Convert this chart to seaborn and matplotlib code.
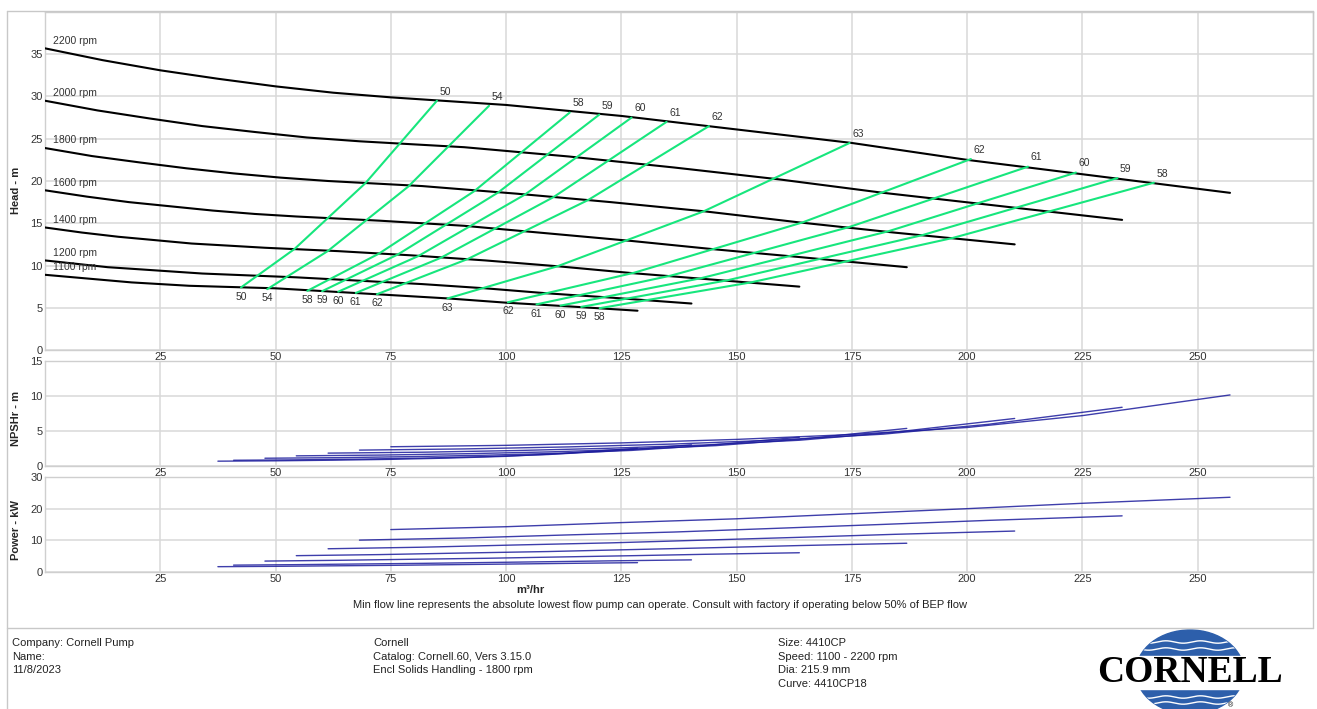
import numpy as np
import matplotlib
matplotlib.use('Agg')
import matplotlib.pyplot as plt
from matplotlib.lines import Line2D
from matplotlib.patches import Ellipse, Rectangle
import pandas as pd
import seaborn as sns

sns.set_theme(style='whitegrid')
plt.rcParams['font.family'] = ['Liberation Sans', 'DejaVu Sans']

# ---- data ----
speeds = [2200, 2000, 1800, 1600, 1400, 1200, 1100]

head_flow = {
    2200: [0, 12.5, 25, 37.5, 50, 62.5, 75, 100, 125, 150, 175, 200, 225, 257],
    2000: [0, 11.4, 22.7, 34.1, 45.5, 56.8, 68.2, 90.9, 113.6, 136.4, 159.1, 181.8, 204.5, 233.6],
    1800: [0, 10.2, 20.5, 30.7, 40.9, 51.1, 61.4, 81.8, 102.3, 122.7, 143.2, 163.6, 184.1, 210.3],
    1600: [0, 9.1, 18.2, 27.3, 36.4, 45.5, 54.5, 72.7, 90.9, 109.1, 127.3, 145.5, 163.6, 186.9],
    1400: [0, 8.0, 15.9, 23.9, 31.8, 39.8, 47.7, 63.6, 79.5, 95.5, 111.4, 127.3, 143.2, 163.6],
    1200: [0, 6.8, 13.6, 20.5, 27.3, 34.1, 40.9, 54.5, 68.2, 81.8, 95.5, 109.1, 122.7, 140.2],
    1100: [0, 6.25, 12.5, 18.75, 25, 31.25, 37.5, 50, 62.5, 75, 87.5, 100, 112.5, 128.5],
}
head_m = {
    2200: [35.7, 34.3, 33.1, 32.1, 31.2, 30.45, 29.9, 29.0, 27.7, 26.1, 24.5, 22.5, 20.8, 18.6],
    2000: [29.5, 28.35, 27.4, 26.5, 25.8, 25.15, 24.7, 24.0, 22.9, 21.6, 20.2, 18.6, 17.2, 15.4],
    1800: [23.9, 22.95, 22.2, 21.5, 20.9, 20.4, 20.0, 19.4, 18.5, 17.5, 16.4, 15.1, 13.9, 12.5],
    1600: [18.9, 18.15, 17.5, 17.0, 16.5, 16.1, 15.8, 15.3, 14.7, 13.8, 12.9, 11.9, 11.0, 9.8],
    1400: [14.5, 13.9, 13.4, 13.0, 12.6, 12.35, 12.1, 11.7, 11.2, 10.6, 9.9, 9.1, 8.4, 7.5],
    1200: [10.6, 10.2, 9.8, 9.55, 9.3, 9.05, 8.9, 8.6, 8.2, 7.8, 7.3, 6.7, 6.2, 5.5],
    1100: [8.9, 8.6, 8.3, 8.0, 7.8, 7.6, 7.5, 7.3, 6.9, 6.5, 6.1, 5.6, 5.2, 4.65],
}

# efficiency iso-lines: points on 1100, 1400, 1800, 2200 rpm curves
eff_labels = [50, 54, 58, 59, 60, 61, 62, 63, 62, 61, 60, 59, 58]
eff_flow = [
    [42.5, 54.1, 69.5, 85.0],
    [48.2, 61.3, 78.8, 96.3],
    [56.9, 72.4, 93.1, 113.8],
    [60.1, 76.5, 98.3, 120.2],
    [63.6, 80.9, 104.1, 127.2],
    [67.4, 85.8, 110.3, 134.8],
    [72.0, 91.6, 117.8, 144.0],
    [87.3, 111.1, 142.8, 174.5],
    [100.4, 127.8, 164.3, 200.8],
    [106.6, 135.7, 174.4, 213.2],
    [111.8, 142.3, 182.9, 223.6],
    [116.3, 148.0, 190.3, 232.6],
    [120.3, 153.1, 196.8, 240.5],
]
eff_head = [
    [7.4, 11.95, 19.75, 29.5],
    [7.2, 11.7, 19.35, 28.9],
    [7.0, 11.4, 18.8, 28.1],
    [6.96, 11.3, 18.65, 27.85],
    [6.9, 11.1, 18.4, 27.5],
    [6.75, 10.9, 18.1, 27.0],
    [6.6, 10.75, 17.75, 26.5],
    [6.1, 9.9, 16.4, 24.5],
    [5.65, 9.15, 15.1, 22.6],
    [5.4, 8.8, 14.55, 21.7],
    [5.25, 8.5, 14.05, 21.0],
    [5.1, 8.25, 13.6, 20.35],
    [4.95, 8.0, 13.25, 19.8],
]

aux_flow = {
    2200: [75, 100, 125, 150, 175, 200, 225, 257],
    2000: [68.2, 90.9, 113.6, 136.4, 159.1, 181.8, 204.5, 233.6],
    1800: [61.4, 81.8, 102.3, 122.7, 143.2, 163.6, 184.1, 210.3],
    1600: [54.5, 72.7, 90.9, 109.1, 127.3, 145.5, 163.6, 186.9],
    1400: [47.7, 63.6, 79.5, 95.5, 111.4, 127.3, 143.2, 163.6],
    1200: [40.9, 54.5, 68.2, 81.8, 95.5, 109.1, 122.7, 140.2],
    1100: [37.5, 50, 62.5, 75, 87.5, 100, 112.5, 128.5],
}
npsh_m = {
    2200: [2.75, 2.95, 3.3, 3.8, 4.5, 5.5, 7.2, 10.15],
    2000: [2.27, 2.44, 2.73, 3.14, 3.72, 4.55, 5.95, 8.39],
    1800: [1.84, 1.97, 2.21, 2.54, 3.01, 3.68, 4.82, 6.79],
    1600: [1.45, 1.56, 1.75, 2.01, 2.38, 2.91, 3.81, 5.37],
    1400: [1.11, 1.19, 1.34, 1.54, 1.82, 2.23, 2.92, 4.11],
    1200: [0.82, 0.88, 0.98, 1.13, 1.34, 1.64, 2.14, 3.02],
    1100: [0.69, 0.74, 0.83, 0.95, 1.13, 1.38, 1.8, 2.54],
}
power_kw = {
    2200: [13.4, 14.3, 15.6, 16.8, 18.4, 20.0, 21.7, 23.6],
    2000: [10.07, 10.74, 11.72, 12.62, 13.82, 15.03, 16.30, 17.73],
    1800: [7.34, 7.83, 8.54, 9.20, 10.08, 10.95, 11.89, 12.93],
    1600: [5.16, 5.50, 6.00, 6.46, 7.08, 7.69, 8.35, 9.08],
    1400: [3.45, 3.69, 4.02, 4.33, 4.74, 5.15, 5.59, 6.08],
    1200: [2.17, 2.32, 2.53, 2.73, 2.99, 3.25, 3.52, 3.83],
    1100: [1.68, 1.79, 1.95, 2.10, 2.30, 2.50, 2.71, 2.95],
}

x_ticks = [25, 50, 75, 100, 125, 150, 175, 200, 225, 250]

W, H = 1317, 709
fig = plt.figure(figsize=(W / 100, H / 100), dpi=100, facecolor='white')


def px_axes(x0, y0, x1, y1):
    return fig.add_axes([x0 / W, 1 - y1 / H, (x1 - x0) / W, (y1 - y0) / H])


def style(ax, ymax, yticks):
    ax.set_xlim(0, 275)
    ax.set_ylim(0, ymax)
    ax.set_xticks(x_ticks)
    ax.set_yticks(yticks)
    ax.grid(True, color='#d8d8d8', lw=1.1)
    ax.tick_params(length=0, labelsize=8, pad=1.5, labelcolor='#333333')
    for s in ax.spines.values():
        s.set_color('#cfcfcf')
        s.set_linewidth(1)
    ax.set_xlabel('')
    ax.set_ylabel('')


def long_df(xs, ys, key):
    rows = []
    for k in xs:
        for a, b in zip(xs[k], ys[k]):
            rows.append({key: k, 'x': a, 'y': b})
    return pd.DataFrame(rows)


# ---- head panel ----
ax_h = px_axes(45, 12, 1313, 350)
df_h = long_df(head_flow, head_m, 'rpm')
sns.lineplot(data=df_h, x='x', y='y', units='rpm', estimator=None, sort=False,
             color='black', lw=1.5, ax=ax_h, zorder=3)
df_e = long_df(dict(enumerate(eff_flow)), dict(enumerate(eff_head)), 'line')
sns.lineplot(data=df_e, x='x', y='y', units='line', estimator=None, sort=False,
             color='#17e67d', lw=1.5, ax=ax_h, zorder=4)
style(ax_h, 40, list(range(0, 40, 5)))

for rpm in speeds:
    ax_h.annotate(f'{rpm} rpm', (head_flow[rpm][0], head_m[rpm][0]), xytext=(6, 2),
                  textcoords='offset points', ha='left', va='bottom',
                  fontsize=7.5, color='#333333')
for lab, qs, hs in zip(eff_labels, eff_flow, eff_head):
    ax_h.annotate(str(lab), (qs[0], hs[0]), xytext=(0, -3), textcoords='offset points',
                  ha='center', va='top', fontsize=7.5, color='#333333')
    ax_h.annotate(str(lab), (qs[-1], hs[-1]), xytext=(6, 3), textcoords='offset points',
                  ha='center', va='bottom', fontsize=7.5, color='#333333')

# ---- NPSH panel ----
ax_n = px_axes(45, 361, 1313, 466)
df_n = long_df(aux_flow, npsh_m, 'rpm')
sns.lineplot(data=df_n, x='x', y='y', units='rpm', estimator=None, sort=False,
             color='#1c1c9c', lw=1.0, alpha=0.85, ax=ax_n)
style(ax_n, 15, [0, 5, 10, 15])

# ---- power panel ----
ax_p = px_axes(45, 477, 1313, 572)
df_p = long_df(aux_flow, power_kw, 'rpm')
sns.lineplot(data=df_p, x='x', y='y', units='rpm', estimator=None, sort=False,
             color='#1c1c9c', lw=1.0, alpha=0.85, ax=ax_p)
style(ax_p, 30, [0, 10, 20, 30])


def ftext(x, y, s, **kw):
    fig.text(x / W, 1 - y / H, s, **kw)


ftext(16, 190, 'Head - m', rotation=90, ha='center', va='center', fontsize=8, fontweight='bold')
ftext(16, 418, 'NPSHr - m', rotation=90, ha='center', va='center', fontsize=8, fontweight='bold')
ftext(16, 530, 'Power - kW', rotation=90, ha='center', va='center', fontsize=8, fontweight='bold')
ftext(530, 590, 'm³/hr', ha='center', va='center', fontsize=8, fontweight='bold')
ftext(660, 605, 'Min flow line represents the absolute lowest flow pump can operate. '
      'Consult with factory if operating below 50% of BEP flow',
      ha='center', va='center', fontsize=8, color='#222222')

# page frame
for (x0, y0, x1, y1) in [(7, 11, 1313, 11), (7, 11, 7, 709), (1313, 11, 1313, 628), (7, 628, 1313, 628)]:
    fig.add_artist(Line2D([x0 / W, x1 / W], [1 - y0 / H, 1 - y1 / H], color='#c8c8c8', lw=1))

# footer
footer_cols = [
    (12, ['Company: Cornell Pump', 'Name:', '11/8/2023']),
    (373, ['Cornell', 'Catalog: Cornell.60, Vers 3.15.0', 'Encl Solids Handling - 1800 rpm']),
    (778, ['Size: 4410CP', 'Speed: 1100 - 2200 rpm', 'Dia: 215.9 mm', 'Curve: 4410CP18']),
]
for x, lines in footer_cols:
    for i, s in enumerate(lines):
        ftext(x, 643 + i * 13.7, s, ha='left', va='center', fontsize=8, color='#222222')

# logo
ax_l = px_axes(1080, 629, 1300, 709)
ax_l.set_xlim(1080, 1300)
ax_l.set_ylim(709, 629)
ax_l.axis('off')
ell = Ellipse((1190, 672), 108, 84, color='#2d5fab', zorder=1)
ax_l.add_patch(ell)
ax_l.add_patch(Rectangle((1080, 656), 220, 33, color='white', zorder=2))
wx = np.linspace(1140, 1240, 200)
for yw in [642, 649, 697, 703]:
    wl, = ax_l.plot(wx, yw + 1.2 * np.sin((wx - 1140) / 5.5), color='white', lw=1.0, zorder=3)
    wl.set_clip_path(ell)
ax_l.text(1190, 673, 'CORNELL', ha='center', va='center', fontsize=27, fontweight='bold',
          family=['Liberation Serif', 'DejaVu Serif'], color='black', zorder=4)
ax_l.text(1230, 706, '®', ha='center', va='center', fontsize=5, color='black', zorder=4)

fig.savefig('out.png', dpi=100, facecolor='white')
